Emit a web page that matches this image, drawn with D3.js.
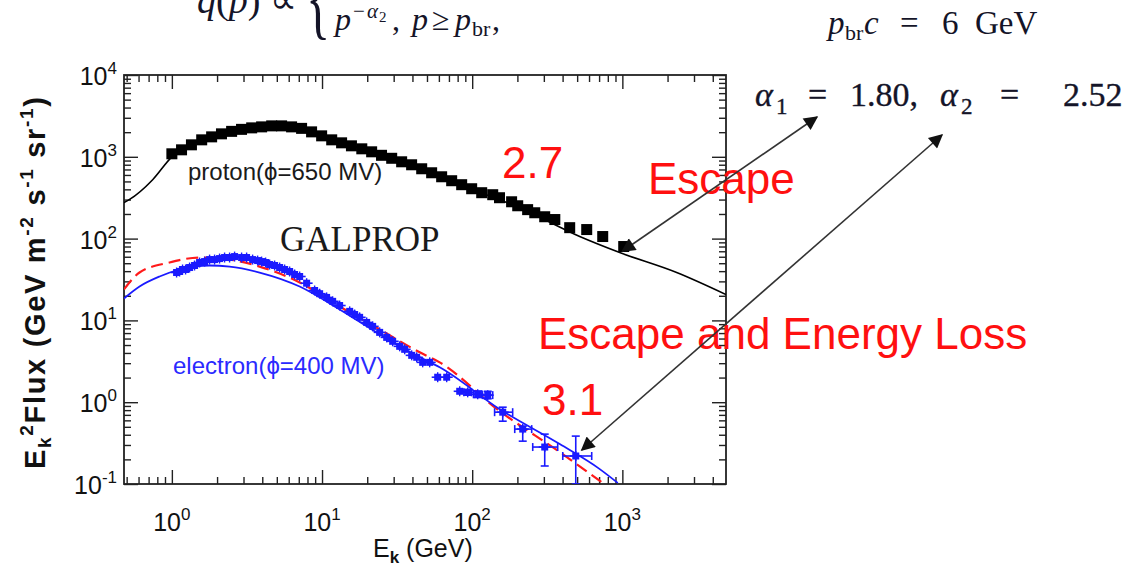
<!DOCTYPE html>
<html>
<head>
<meta charset="utf-8">
<script src="https://cdn.jsdelivr.net/npm/d3@7"></script>
<style>
  body { margin: 0; background: #fff; }
  svg { display: block; }
</style>
</head>
<body>
<svg id="chart" width="1133" height="566"></svg>
<script>
// ---- axis ranges and tick exponents ----
const xDomain = [0.48, 4900];
const yDomain = [0.1, 10000];
const xTickExps = [0, 1, 2, 3];
const yTickExps = [-1, 0, 1, 2, 3, 4];

// ---- proton measurements: E_k (GeV), E^2 Flux ----
const protonE = [1.00, 1.16, 1.35, 1.58, 1.84, 2.14, 2.50, 2.91, 3.40, 3.96, 4.62, 5.38, 6.27, 7.31, 8.52,
  9.94, 11.6, 13.5, 15.7, 18.4, 21.4, 24.9, 29.1, 33.9, 39.5, 46.1, 53.7, 62.6, 73.0, 85.1, 99.2, 115.7,
  137, 152, 183, 201, 234, 261, 304, 355, 446, 579, 740, 1021];
const protonFlux = [1088, 1217, 1401, 1612, 1753, 1908, 2046, 2165, 2258, 2322, 2388, 2388, 2322, 2226, 2018,
  1804, 1612, 1482, 1362, 1252, 1151, 1043, 959, 869, 799, 714, 638, 570, 510, 456, 407, 364,
  344, 316, 282, 252, 226, 207, 185, 171, 136, 129, 106, 80];

// ---- proton GALPROP model ----
const protonModelE = [0.48, 0.52, 0.745, 1.0, 1.5, 2.4, 4.5, 7.1, 11.2, 17.8, 33, 60, 112, 200, 520, 960, 2300, 4900];
const protonModelFlux = [275, 299, 525, 1000, 1550, 2000, 2400, 2250, 1650, 1280, 880, 580, 370, 245, 106, 67.5, 38.5, 20.7];

// ---- electron measurements ----
const electronE = [1.075, 1.125, 1.178, 1.234, 1.312, 1.416, 1.529, 1.652, 1.783, 1.925, 2.078, 2.244, 2.423,
  2.616, 2.913, 3.146, 3.449, 3.724, 3.959, 4.210, 4.477, 4.833, 5.219, 5.636, 6.085, 6.570, 7.096, 7.897,
  8.927, 9.64, 10.73, 11.77, 13.10, 15.28, 16.49, 17.80, 19.83, 21.74, 24.20, 26.95, 29.54, 32.89, 35.51,
  39.54, 42.69, 46.80, 52.12, 58.91, 67.63, 82.57, 93.33, 108.8, 126.9, 159.7, 217.0, 304.1, 489.4];
const electronFlux = [38.5, 39.6, 41.9, 41.9, 44.3, 46.9, 51.0, 52.4, 55.4, 55.4, 57.0, 58.7, 58.7,
  60.3, 58.7, 58.7, 55.4, 53.9, 52.4, 51.0, 48.2, 46.9, 44.3, 41.9, 39.6, 36.4, 34.4, 28.5,
  23.2, 21.2, 19.1, 17.1, 15.2, 12.9, 11.8, 10.9, 9.45, 8.45, 7.14, 6.20, 5.55, 4.82, 4.43,
  3.74, 3.54, 3.07, 3.07, 2.02, 2.02, 1.36, 1.32, 1.25, 1.22, 0.755, 0.469, 0.283, 0.220];

// ---- electron points with visible error bars ----
const barE = [93.33, 108.8, 126.9, 159.7, 217.0, 304.1, 489.4];
const barFlux = [1.32, 1.25, 1.22, 0.755, 0.469, 0.283, 0.220];
const barELo = [88, 102, 117, 141, 192, 253, 401];
const barEHi = [99, 116, 137, 186, 249, 371, 625];
const barFluxLo = [1.22, 1.14, 1.10, 0.586, 0.334, 0.166, 0.1];
const barFluxHi = [1.43, 1.37, 1.36, 0.869, 0.509, 0.407, 0.385];

// ---- electron models: solid blue and dashed red ----
const electronModelE = [0.48, 0.609, 0.828, 1.125, 1.783, 2.423, 3.839, 7.096, 13.10, 24.20, 44.70, 60.74, 152.5, 382.8, 707.3, 932];
const electronModelFlux = [18.55, 25.97, 34.4, 41.9, 46.9, 45.5, 38.5, 25.97, 13.6, 6.75, 3.54, 2.67, 0.821, 0.3075, 0.152, 0.103];
const electronAltE = [0.48, 0.609, 0.965, 1.529, 2.423, 3.839, 7.096, 13.10, 24.20, 44.70, 60.74, 152.5, 382.8, 740.6];
const electronAltFlux = [23.9, 38.5, 51.0, 58.7, 55.4, 45.5, 29.1, 14.8, 7.77, 4.07, 3.07, 0.777, 0.2456, 0.103];

// ---- layout ----
const plot = { left: 124, right: 726, top: 75, bottom: 484 };
const svg = d3.select("#chart");
const sans = "'Liberation Sans', Arial, Helvetica, sans-serif";
const serif = "'Liberation Serif', 'Times New Roman', serif";
const ink = "#141428";

const x = d3.scaleLog().domain(xDomain).range([plot.left, plot.right]);
const y = d3.scaleLog().domain(yDomain).range([plot.bottom, plot.top]);

const defs = svg.append("defs");
defs.append("clipPath").attr("id", "plotClip")
  .append("rect").attr("x", plot.left).attr("y", plot.top)
  .attr("width", plot.right - plot.left).attr("height", plot.bottom - plot.top);

// ---- ticks (inward on all four sides) ----
const xMajor = xTickExps.map(e => Math.pow(10, e));
const yMajor = yTickExps.map(e => Math.pow(10, e));
const minorIn = (dom, lo, hi) => {
  const out = [];
  for (let e = lo; e <= hi; e++) for (let k = 2; k <= 9; k++) {
    const v = k * Math.pow(10, e);
    if (v > dom[0] && v < dom[1]) out.push(v);
  }
  return out;
};
const xMinor = minorIn(xDomain, -1, 3);
const yMinor = minorIn(yDomain, -1, 3);

function drawAxis(gen, tx, ty, values, size) {
  const g = svg.append("g").attr("transform", `translate(${tx},${ty})`)
    .call(gen.tickValues(values).tickSize(-size).tickSizeOuter(0).tickFormat(""));
  g.select(".domain").remove();
  g.selectAll(".tick line").attr("stroke", "#222").attr("stroke-width", 1.4);
}
[[xMajor, 14], [xMinor, 7]].forEach(([vals, s]) => {
  drawAxis(d3.axisBottom(x), 0, plot.bottom, vals, s);
  drawAxis(d3.axisTop(x), 0, plot.top, vals, s);
});
[[yMajor, 14], [yMinor, 7]].forEach(([vals, s]) => {
  drawAxis(d3.axisLeft(y), plot.left, 0, vals, s);
  drawAxis(d3.axisRight(y), plot.right, 0, vals, s);
});

svg.append("rect").attr("x", plot.left).attr("y", plot.top)
  .attr("width", plot.right - plot.left).attr("height", plot.bottom - plot.top)
  .attr("fill", "none").attr("stroke", "#222").attr("stroke-width", 1.8);

// ---- tick labels 10^n ----
xTickExps.forEach(e => {
  const t = svg.append("text").attr("x", x(Math.pow(10, e))).attr("y", 531)
    .attr("text-anchor", "middle").attr("font-family", sans).attr("font-size", 25).attr("fill", "#111");
  t.append("tspan").text("10");
  t.append("tspan").attr("dy", -11).attr("font-size", 17).text(e);
});
yTickExps.forEach(e => {
  const t = svg.append("text").attr("x", 117).attr("y", y(Math.pow(10, e)) + 10)
    .attr("text-anchor", "end").attr("font-family", sans).attr("font-size", 25).attr("fill", "#111");
  t.append("tspan").text("10");
  t.append("tspan").attr("dy", -11).attr("font-size", 17).text(e < 0 ? "-" + (-e) : e);
});

// ---- axis titles ----
const xt = svg.append("text").attr("x", 373).attr("y", 557)
  .attr("font-family", sans).attr("font-size", 25).attr("fill", "#111");
xt.append("tspan").text("E");
xt.append("tspan").attr("dy", 6).attr("font-size", 17).attr("font-weight", "bold").text("k");
xt.append("tspan").attr("dy", -6).text(" (GeV)");

const yt = svg.append("text").attr("transform", "translate(45,283) rotate(-90)")
  .attr("text-anchor", "middle").attr("font-family", sans).attr("font-weight", "bold")
  .attr("font-size", 29).attr("fill", "#111")
  .attr("textLength", 372).attr("lengthAdjust", "spacing");
yt.append("tspan").text("E");
yt.append("tspan").attr("dy", 6).attr("font-size", 19).text("k");
yt.append("tspan").attr("dy", -18).attr("font-size", 19).text("2");
yt.append("tspan").attr("dy", 12).text("Flux (GeV m");
yt.append("tspan").attr("dy", -12).attr("font-size", 19).text("-2");
yt.append("tspan").attr("dy", 12).text(" s");
yt.append("tspan").attr("dy", -12).attr("font-size", 19).text("-1");
yt.append("tspan").attr("dy", 12).text(" sr");
yt.append("tspan").attr("dy", -12).attr("font-size", 19).text("-1");
yt.append("tspan").attr("dy", 12).text(")");

// ---- curves and points ----
const plotArea = svg.append("g").attr("clip-path", "url(#plotClip)");
const line = d3.line().x(d => x(d[0])).y(d => y(d[1])).curve(d3.curveMonotoneX);

plotArea.append("path").datum(d3.zip(protonModelE, protonModelFlux))
  .attr("d", line).attr("fill", "none").attr("stroke", "#000").attr("stroke-width", 1.6);

plotArea.selectAll("rect.proton").data(d3.zip(protonE, protonFlux)).join("rect")
  .attr("class", "proton")
  .attr("x", d => x(d[0]) - 5.5).attr("y", d => y(d[1]) - 5.5)
  .attr("width", 11).attr("height", 11).attr("fill", "#000");

plotArea.append("path").datum(d3.zip(electronAltE, electronAltFlux))
  .attr("d", line).attr("fill", "none").attr("stroke", "#ff1a1a")
  .attr("stroke-width", 2.2).attr("stroke-dasharray", "12,6");
plotArea.append("path").datum(d3.zip(electronModelE, electronModelFlux))
  .attr("d", line).attr("fill", "none").attr("stroke", "#1a1aff").attr("stroke-width", 1.8);

const blue = "#1a1aff";
const eg = plotArea.append("g").attr("stroke", blue).attr("fill", blue);
// error bars with caps
barE.forEach((e, i) => {
  const cx = x(e), cy = y(barFlux[i]);
  eg.append("line").attr("x1", x(barELo[i])).attr("x2", x(barEHi[i])).attr("y1", cy).attr("y2", cy).attr("stroke-width", 1.6);
  eg.append("line").attr("x1", cx).attr("x2", cx).attr("y1", y(barFluxLo[i])).attr("y2", y(barFluxHi[i])).attr("stroke-width", 1.6);
  [barFluxLo[i], barFluxHi[i]].forEach(v => eg.append("line").attr("x1", cx - 4).attr("x2", cx + 4)
    .attr("y1", y(v)).attr("y2", y(v)).attr("stroke-width", 1.6));
  [barELo[i], barEHi[i]].forEach(v => eg.append("line").attr("x1", x(v)).attr("x2", x(v))
    .attr("y1", cy - 4).attr("y2", cy + 4).attr("stroke-width", 1.6));
});
// markers with short bars
electronE.forEach((e, i) => {
  const cx = x(e), cy = y(electronFlux[i]);
  eg.append("line").attr("x1", cx - 6).attr("x2", cx + 6).attr("y1", cy).attr("y2", cy).attr("stroke-width", 1.6);
  eg.append("line").attr("x1", cx).attr("x2", cx).attr("y1", cy - 5).attr("y2", cy + 5).attr("stroke-width", 1.4);
  eg.append("rect").attr("x", cx - 3.5).attr("y", cy - 3.5).attr("width", 7).attr("height", 7).attr("stroke", "none");
});

// ---- in-plot labels ----
svg.append("text").attr("x", 188).attr("y", 180).attr("font-family", sans).attr("font-size", 24)
  .attr("fill", "#1a1a1a").text("proton(\u03D5=650 MV)");
svg.append("text").attr("x", 173).attr("y", 374).attr("font-family", sans).attr("font-size", 24)
  .attr("fill", "#2a2aff").text("electron(\u03D5=400 MV)");
svg.append("text").attr("x", 280).attr("y", 251).attr("font-family", serif).attr("font-size", 35)
  .attr("fill", "#1a1a1a").text("GALPROP");

// ---- red annotations ----
const red = "#ff1010";
[["2.7", 502, 178], ["Escape", 648, 194], ["Escape and Energy Loss", 538, 349], ["3.1", 542, 415]]
  .forEach(([s, tx, ty]) => svg.append("text").attr("x", tx).attr("y", ty).attr("font-family", sans)
    .attr("font-size", 44).attr("fill", red).text(s));

// ---- arrows from the break points to the spectral indices ----
defs.append("marker").attr("id", "head").attr("viewBox", "0 0 10 10").attr("refX", 9).attr("refY", 5)
  .attr("markerWidth", 17).attr("markerHeight", 14).attr("markerUnits", "userSpaceOnUse")
  .attr("orient", "auto-start-reverse")
  .append("path").attr("d", "M0,0 L10,5 L0,10 z").attr("fill", "#111");

function arrow(x1, y1, x2, y2) {
  svg.append("line").attr("x1", x1).attr("y1", y1).attr("x2", x2).attr("y2", y2)
    .attr("stroke", "#333").attr("stroke-width", 1.6)
    .attr("marker-start", "url(#head)").attr("marker-end", "url(#head)");
}
arrow(x(1000), y(70), 817, 117);
arrow(x(489.4) + 6, y(0.22) - 6, 942, 135);

// ---- source spectrum formulas ----
const f1 = svg.append("text").attr("x", 197).attr("y", 13).attr("font-family", serif)
  .attr("font-size", 38).attr("fill", ink);
f1.append("tspan").attr("font-style", "italic").text("q");
f1.append("tspan").text("(");
f1.append("tspan").attr("font-style", "italic").text("p");
f1.append("tspan").text(") \u221D");
svg.append("text").attr("transform", "translate(306,28) scale(0.55,1)")
  .attr("font-family", serif).attr("font-size", 92).attr("fill", ink).text("{");

function piece(parent, px, py, s, opts = {}) {
  const t = parent.append("tspan").attr("x", px).attr("y", py).text(s);
  if (opts.italic) t.attr("font-style", "italic");
  if (opts.size) t.attr("font-size", opts.size);
  return t;
}
const f2 = svg.append("text").attr("font-family", serif).attr("font-size", 32).attr("fill", ink);
piece(f2, 335, 30, "p", { italic: true });
piece(f2, 353, 18, "\u2212", { size: 21 });
piece(f2, 367, 18, "\u03B1", { italic: true, size: 21 });
piece(f2, 379, 22, "2", { size: 15 });
piece(f2, 392, 30, ",");
piece(f2, 412, 30, "p", { italic: true });
piece(f2, 432, 30, "\u2265");
piece(f2, 455, 30, "p", { italic: true });
piece(f2, 472, 36, "br", { size: 22 });
piece(f2, 492, 30, ",");

const f3 = svg.append("text").attr("font-family", serif).attr("font-size", 33).attr("fill", ink);
piece(f3, 828, 34, "p", { italic: true });
piece(f3, 845, 40, "br", { size: 22 });
piece(f3, 864, 34, "c", { italic: true });
piece(f3, 900, 34, "=");
piece(f3, 942, 34, "6");
piece(f3, 975, 34, "GeV");

const f4 = svg.append("text").attr("font-family", serif).attr("font-size", 34).attr("fill", ink)
  .attr("stroke", ink).attr("stroke-width", 0.35);
piece(f4, 755, 106, "\u03B1", { italic: true });
piece(f4, 776, 114, "1", { size: 23 });
piece(f4, 808, 106, "=");
piece(f4, 850, 106, "1.80,");
piece(f4, 940, 106, "\u03B1", { italic: true });
piece(f4, 961, 114, "2", { size: 23 });
piece(f4, 1000, 106, "=");
piece(f4, 1063, 106, "2.52");
</script>
</body>
</html>
